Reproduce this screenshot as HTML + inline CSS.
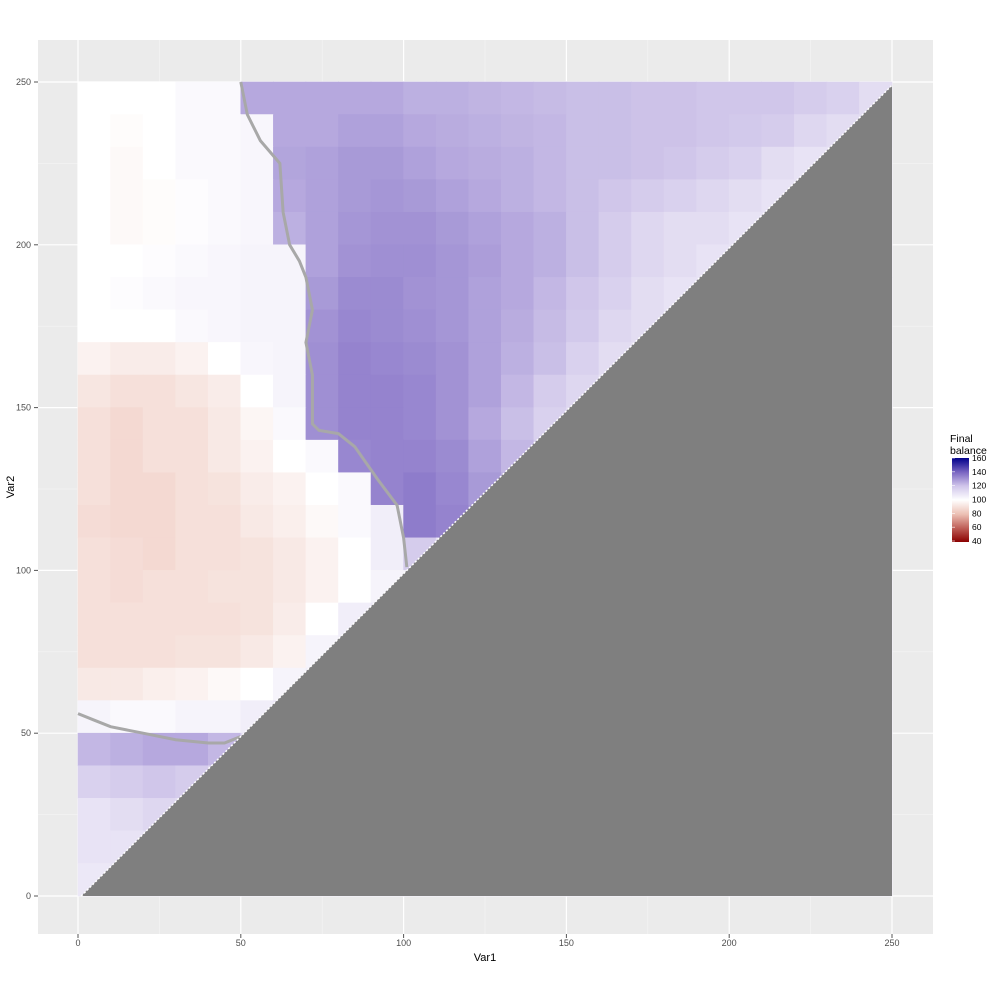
<!DOCTYPE html>
<html><head><meta charset="utf-8"><style>
html,body{margin:0;padding:0;background:#fff;}
svg{display:block;font-family:"Liberation Sans",sans-serif;}
</style></head><body>
<svg id="chart" width="1000" height="1000" viewBox="0 0 1000 1000">
<rect x="38" y="40" width="895" height="894" fill="#ebebeb"/>
<g id="grid"></g>
<g id="tiles"></g>
<g id="axes"></g>
<g>
<text x="950" y="442" font-size="10.5" fill="#000">Final</text>
<text x="950" y="454" font-size="10.5" fill="#000">balance</text>
<defs><linearGradient id="lg" x1="0" y1="0" x2="0" y2="1">
<stop offset="0" stop-color="#00008b"/><stop offset="0.17" stop-color="#7a66c2"/><stop offset="0.33" stop-color="#cfc4ea"/><stop offset="0.5" stop-color="#ffffff"/><stop offset="0.67" stop-color="#ecc0b4"/><stop offset="0.83" stop-color="#c0615a"/><stop offset="1" stop-color="#8b0000"/></linearGradient></defs>
<rect x="952" y="458" width="17" height="84" fill="url(#lg)"/>
<g id="legticks"></g>
</g>
</svg>
<script>
const xTicks=[0,50,100,150,200,250];
const yTicks=[0,50,100,150,200,250];
const legendTicks=[40,60,80,100,120,140,160];
const rowsY=[245,235,225,215,205,195,185,175,165,155,145,135,125,115,105,95,85,75,65,55,45,35,25,15,5];
const r0=[100,100,100,102,102,128,128,128,128,128,126,126,125,124,123,122,122,121,121,120,120,120,118,116,112];
const r1=[100,99,100,102,102,103,128,128,130,130,128,127,126,125,124,122,122,121,121,120,119,118,114,112,112];
const r2=[100,98,100,102,102,103,129,130,132,132,130,128,127,126,124,122,122,121,120,118,116,112,110,110,110];
const r3=[100,98,99,101,102,103,128,130,132,133,132,130,128,126,124,122,120,118,116,114,112,110,110,110,110];
const r4=[100,98,99,101,102,103,126,130,133,134,134,132,130,128,126,122,118,114,112,112,110,110,110,110,110];
const r5=[100,100,101,102,103,104,104,130,134,135,135,133,131,128,126,122,118,114,112,110,110,110,110,110,110];
const r6=[100,101,102,103,103,104,104,132,136,136,134,133,130,128,124,120,116,112,110,110,110,110,110,110,110];
const r7=[100,100,100,102,103,104,104,134,137,136,135,133,130,127,123,119,114,112,110,110,110,110,110,110,110];
const r8=[96,94,94,96,100,103,104,135,138,137,136,134,130,126,122,116,112,110,110,110,110,110,110,110,110];
const r9=[92,90,90,92,94,100,104,135,138,138,137,134,130,124,118,114,110,110,110,110,110,110,110,110,110];
const r10=[90,88,90,90,93,97,102,135,138,138,137,134,128,122,116,112,110,110,110,110,110,110,110,110,110];
const r11=[90,88,90,90,93,96,100,102,137,138,138,136,130,124,118,112,110,110,110,110,110,110,110,110,110];
const r12=[90,88,88,90,91,94,96,100,102,138,140,137,132,126,118,112,110,110,110,110,110,110,110,110,110];
const r13=[89,88,88,90,90,93,95,98,102,106,140,138,134,126,118,112,110,110,110,110,110,110,110,110,110];
const r14=[90,89,88,90,90,91,93,96,100,106,118,110,110,110,110,110,110,110,110,110,110,110,110,110,110];
const r15=[90,89,90,90,91,91,93,96,100,104,104,110,110,110,110,110,110,110,110,110,110,110,110,110,110];
const r16=[90,90,90,90,90,91,94,100,106,108,110,110,110,110,110,110,110,110,110,110,110,110,110,110,110];
const r17=[90,90,90,91,91,93,96,104,106,108,110,110,110,110,110,110,110,110,110,110,110,110,110,110,110];
const r18=[93,93,95,96,98,100,104,106,108,110,110,110,110,110,110,110,110,110,110,110,110,110,110,110,110];
const r19=[104,102,102,104,104,106,108,110,110,110,110,110,110,110,110,110,110,110,110,110,110,110,110,110,110];
const r20=[124,126,128,128,124,112,110,110,110,110,110,110,110,110,110,110,110,110,110,110,110,110,110,110,110];
const r21=[116,118,120,118,114,110,110,110,110,110,110,110,110,110,110,110,110,110,110,110,110,110,110,110,110];
const r22=[110,112,114,112,110,110,110,110,110,110,110,110,110,110,110,110,110,110,110,110,110,110,110,110,110];
const r23=[110,110,110,110,110,110,110,110,110,110,110,110,110,110,110,110,110,110,110,110,110,110,110,110,110];
const r24=[108,110,110,110,110,110,110,110,110,110,110,110,110,110,110,110,110,110,110,110,110,110,110,110,110];
const grid=[r0,r1,r2,r3,r4,r5,r6,r7,r8,r9,r10,r11,r12,r13,r14,r15,r16,r17,r18,r19,r20,r21,r22,r23,r24];
const cellSize=10;
const boundaryX=[50,52,56,62,63,65,68,70,72,70,72,72,74,80,85,92,98,100,101];
const boundaryY=[250,240,232,225,210,200,195,190,180,170,160,145,143,142,138,128,120,110,101];
const bandX=[0,5,10,20,30,40,45,50];
const bandY=[56,54,52,50,48,47,47,49];

const NS="http://www.w3.org/2000/svg";
function sx(v){return 78+v*3.256;}
function sy(v){return 896-v*3.256;}
const stops=[[40,[139,0,0]],[60,[192,97,90]],[80,[236,192,180]],[100,[255,255,255]],[120,[208,198,234]],[140,[142,124,203]],[160,[0,0,139]]];
function col(v){
  for(let i=0;i<stops.length-1;i++){const a=stops[i],b=stops[i+1];
    if(v<=b[0]){const t=Math.max(0,(v-a[0])/(b[0]-a[0]));
      return 'rgb('+a[1].map((c,k)=>Math.round(c+(b[1][k]-c)*t)).join(',')+')';}}
  return 'rgb(0,0,139)';
}
function mk(tag,attrs,parent){const e=document.createElementNS(NS,tag);for(const k in attrs)e.setAttribute(k,attrs[k]);parent.appendChild(e);return e;}
const gG=document.getElementById('grid');
[25,75,125,175,225].forEach(v=>{
  const a=mk('line',{x1:sx(v),x2:sx(v),y1:40,y2:934,stroke:'#f5f5f5','stroke-width':0.6},gG);
  
  
  const b=mk('line',{y1:sy(v),y2:sy(v),x1:38,x2:933,stroke:'#f5f5f5','stroke-width':0.6},gG);
  
  
});
xTicks.forEach(v=>{
  const a=mk('line',{x1:sx(v),x2:sx(v),y1:40,y2:934,stroke:'#fff','stroke-width':1.2},gG);
  
  
});
yTicks.forEach(v=>{
  const b=mk('line',{y1:sy(v),y2:sy(v),x1:38,x2:933,stroke:'#fff','stroke-width':1.2},gG);
  
  
});
const tG=document.getElementById('tiles');
grid.forEach((row,ri)=>{
  const yc=rowsY[ri];
  row.forEach((v,ci)=>{
    const x0=ci*cellSize, y1=yc+cellSize/2;
    const r=mk('rect',{x:sx(x0)-0.3,y:sy(y1)-0.3,width:cellSize*3.256+0.6,height:cellSize*3.256+0.6,fill:col(v)},tG);
    
    
  });
});
const bp=mk('polyline',{points:boundaryX.map((x,i)=>sx(x)+','+sy(boundaryY[i])).join(' '),fill:'none',stroke:'#a8a8a8','stroke-width':3},tG);


const bb=mk('polyline',{points:bandX.map((x,i)=>sx(x)+','+sy(bandY[i])).join(' '),fill:'none',stroke:'#a8a8a8','stroke-width':3},tG);


const tri=mk('polygon',{points:[[sx(1),sy(0)],[sx(250),sy(0)],[sx(250),sy(249)]].map(p=>p.join(',')).join(' '),fill:'#7f7f7f'},tG);


const edge=mk('line',{x1:sx(1),y1:sy(0),x2:sx(250),y2:sy(249),stroke:'#fff','stroke-width':1.5,'stroke-dasharray':'2,2'},tG);


const aG=document.getElementById('axes');
xTicks.forEach(v=>{
  const l=mk('line',{x1:sx(v),x2:sx(v),y1:934,y2:938,stroke:'#555'},aG);
  
  
  const t=mk('text',{x:sx(v),y:946,'font-size':9,'text-anchor':'middle',fill:'#4d4d4d'},aG);
  t.textContent=v;
  
  
});
yTicks.forEach(v=>{
  const l=mk('line',{x1:34,x2:38,y1:sy(v),y2:sy(v),stroke:'#555'},aG);
  
  
  const t=mk('text',{x:31,y:sy(v)+3,'font-size':9,'text-anchor':'end',fill:'#4d4d4d'},aG);
  t.textContent=v;
  
  
});
const xt=mk('text',{x:485,y:961,'font-size':11,'text-anchor':'middle',fill:'#000'},aG);
xt.textContent='Var1';


const yt=mk('text',{x:14,y:487,'font-size':11,'text-anchor':'middle',fill:'#000',transform:'rotate(-90 14 487)'},aG);
yt.textContent='Var2';


const lG=document.getElementById('legticks');
legendTicks.forEach(v=>{
  const y=541-(v-40)/120*83;
  const t=mk('text',{x:972,y:y+3,'font-size':8.5,fill:'#000'},lG);
  t.textContent=v;
  
  
  const l=mk('line',{x1:952,x2:955,y1:y,y2:y,stroke:'#fff','stroke-width':0.6},lG);
  
  
});
</script>
</body></html>
